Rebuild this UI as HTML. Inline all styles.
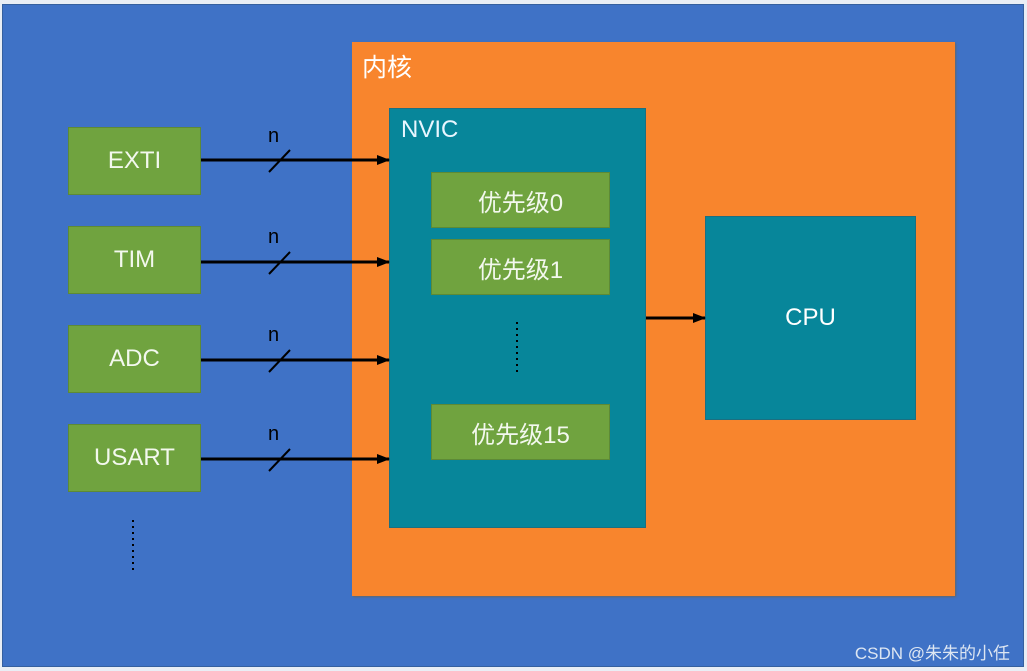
<!DOCTYPE html>
<html><head><meta charset="utf-8"><style>
body{margin:0;width:1027px;height:671px;background:#e9eef5;overflow:hidden;font-family:"Liberation Sans","Noto Sans CJK SC",sans-serif}
.a{position:absolute;box-sizing:border-box}
.g{background:#70a33f;border:1px solid #5d8a36;display:flex;align-items:center;justify-content:center;font-size:24px;color:#f3f8ee}
</style></head><body>
<div class="a" style="left:2px;top:4px;width:1022px;height:663px;background:#3f72c6;border:1px solid #35609f"></div>
<div class="a" style="left:352px;top:42px;width:603px;height:554px;background:#f8852d;box-shadow:1px 1px 2px #666"></div>
<div class="a" style="left:362px;top:48px;color:#fff;font-size:25px">内核</div>
<div class="a" style="left:389px;top:108px;width:257px;height:420px;background:#07869a;border:1px solid #1c6f80"></div>
<div class="a" style="left:401px;top:116px;color:#e8f6ff;font-size:24px">NVIC</div>
<div class="a g" style="left:68px;top:127px;width:133px;height:68px">EXTI</div>
<div class="a g" style="left:68px;top:226px;width:133px;height:68px">TIM</div>
<div class="a g" style="left:68px;top:325px;width:133px;height:68px">ADC</div>
<div class="a g" style="left:68px;top:424px;width:133px;height:68px">USART</div>
<div class="a g" style="left:431px;top:172px;width:179px;height:56px">优先级0</div>
<div class="a g" style="left:431px;top:239px;width:179px;height:56px">优先级1</div>
<div class="a g" style="left:431px;top:404px;width:179px;height:56px">优先级15</div>
<div class="a" style="left:705px;top:216px;width:211px;height:204px;background:#07869a;border:1px solid #1c6f80;color:#fff;font-size:24px;display:flex;align-items:center;justify-content:center">CPU</div>
<svg class="a" style="left:0;top:0" width="1027" height="671">
<defs><marker id="m" markerWidth="13" markerHeight="10" refX="12" refY="5" orient="auto" markerUnits="userSpaceOnUse"><path d="M0,0L13,5L0,10z" fill="#000"/></marker></defs>
<g stroke="#000" stroke-width="3" fill="none">
<line x1="201" y1="160" x2="389" y2="160" marker-end="url(#m)"/>
<line x1="201" y1="262" x2="389" y2="262" marker-end="url(#m)"/>
<line x1="201" y1="360" x2="389" y2="360" marker-end="url(#m)"/>
<line x1="201" y1="459" x2="389" y2="459" marker-end="url(#m)"/>
<line x1="646" y1="318" x2="705" y2="318" marker-end="url(#m)"/>
<g stroke-width="2"><line x1="269" y1="172" x2="290" y2="150"/><line x1="269" y1="274" x2="290" y2="252"/><line x1="269" y1="372" x2="290" y2="350"/><line x1="269" y1="471" x2="290" y2="449"/></g>
<line x1="517" y1="322" x2="517" y2="372" stroke-width="2" stroke-dasharray="2 4"/>
<line x1="133" y1="520" x2="133" y2="570" stroke-width="2" stroke-dasharray="2 4"/>
</g>
<g font-size="20" fill="#000" font-family="Liberation Sans,sans-serif"><text x="268" y="142">n</text><text x="268" y="243">n</text><text x="268" y="341">n</text><text x="268" y="440">n</text></g>
<text x="1010" y="659" text-anchor="end" font-size="17" fill="#dde6f2" font-family="Liberation Sans,Noto Sans CJK SC,sans-serif">CSDN @朱朱的小任</text>
</svg>
</body></html>
